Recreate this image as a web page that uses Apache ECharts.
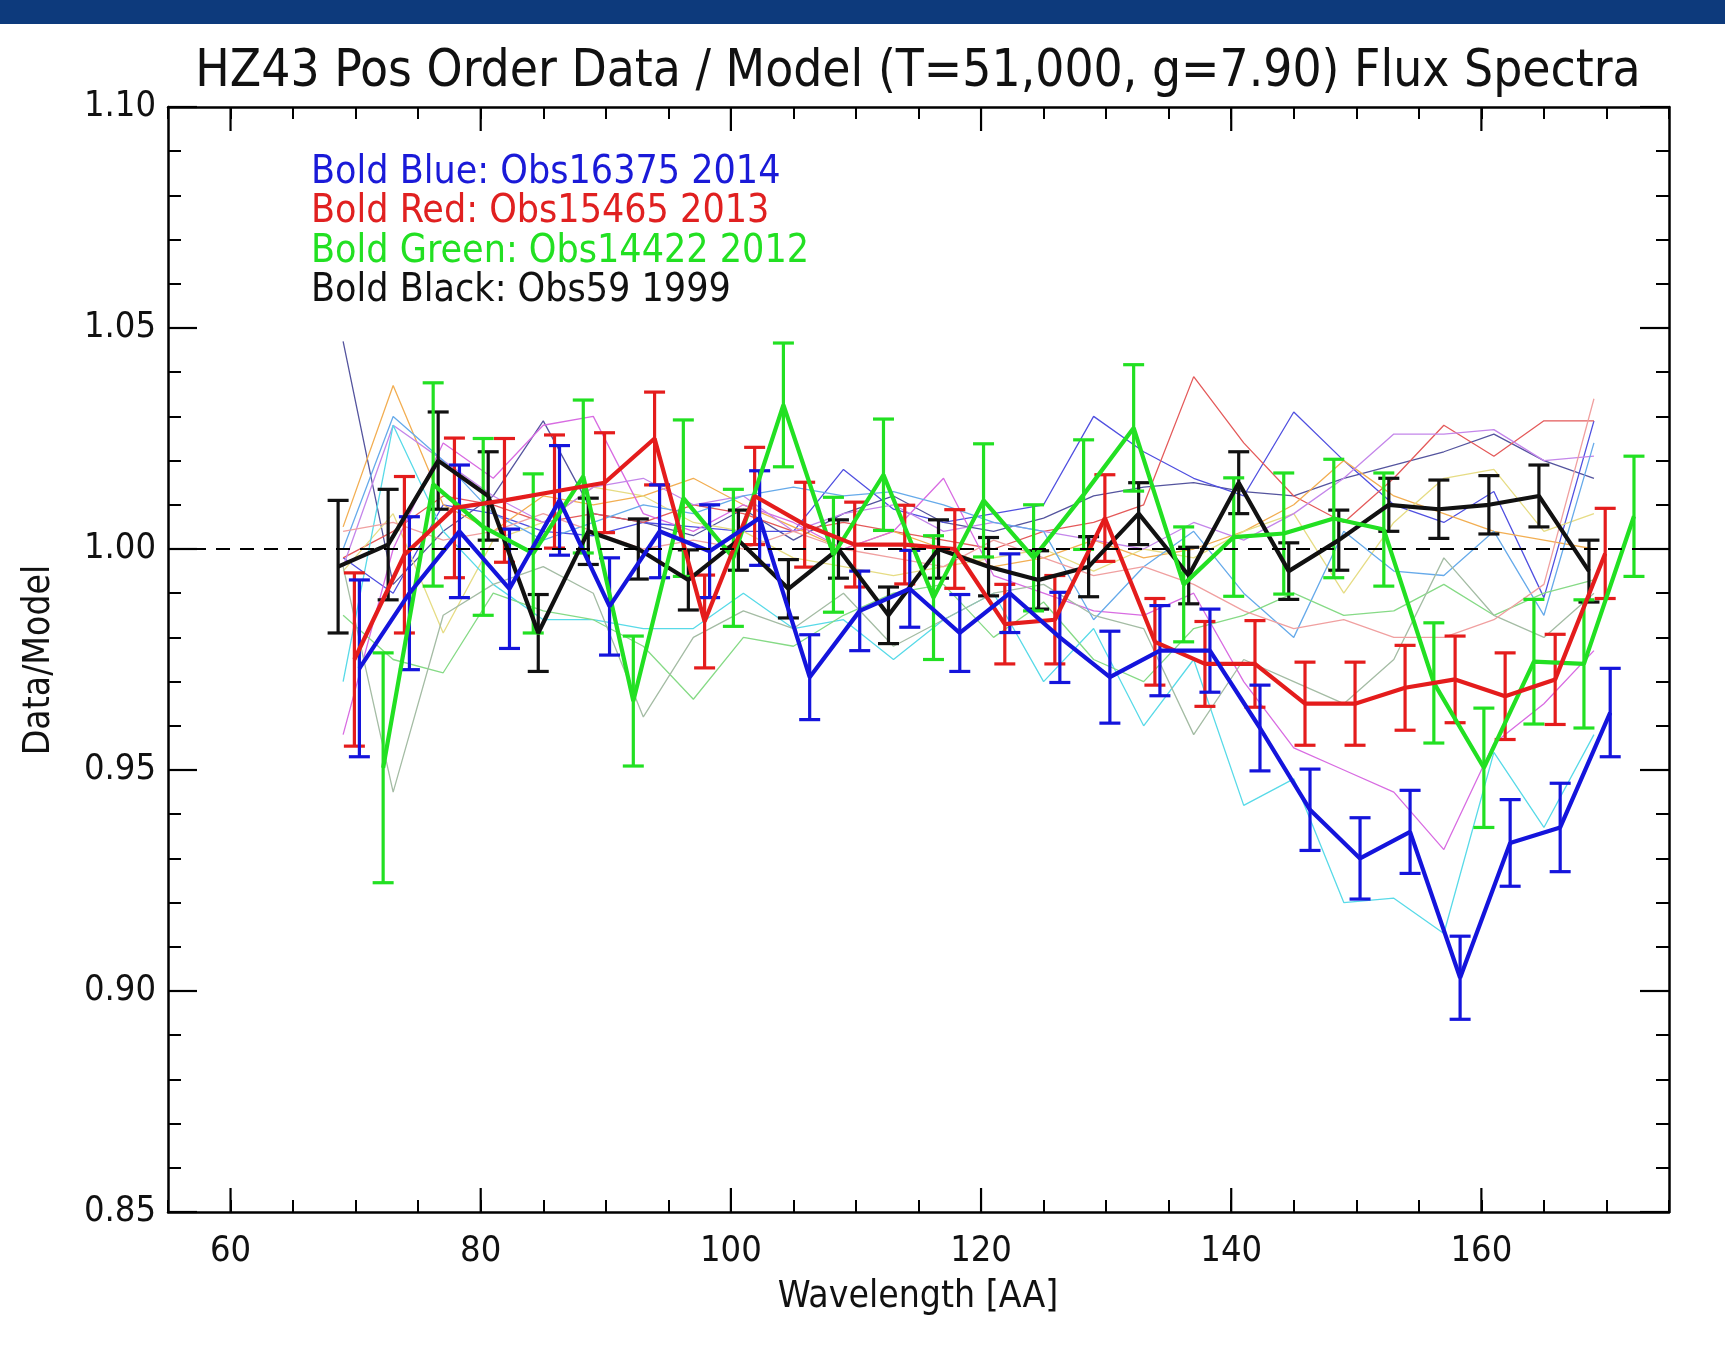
<!DOCTYPE html>
<html>
<head>
<meta charset="utf-8">
<title>HZ43 Pos Order Data / Model Flux Spectra</title>
<script src="https://cdn.jsdelivr.net/npm/echarts@6/dist/echarts.min.js"></script>
<style>
  html, body { margin: 0; padding: 0; background: #ffffff; }
  #chart { width: 1725px; height: 1345px; }
</style>
</head>
<body>
<div id="chart"></div>
<script>
// Bold observations with error bars (wavelength in AA, ratio data/model, 1-sigma half width)
const WL_BLACK = [68.6, 72.6, 76.6, 80.6, 84.6, 88.6, 92.6, 96.6, 100.6, 104.6, 108.6, 112.6, 116.6, 120.6, 124.6, 128.6, 132.6, 136.6, 140.6, 144.6, 148.6, 152.6, 156.6, 160.6, 164.6, 168.6];
const BLACK_RATIO = [0.996, 1.001, 1.020, 1.012, 0.981, 1.004, 1.000, 0.993, 1.002, 0.991, 1.000, 0.985, 1.000, 0.996, 0.993, 0.996, 1.008, 0.994, 1.015, 0.995, 1.002, 1.010, 1.009, 1.010, 1.012, 0.995];
const BLACK_ERR = [0.015, 0.0125, 0.011, 0.010, 0.0087, 0.0075, 0.0068, 0.0068, 0.0068, 0.0066, 0.0066, 0.0064, 0.0066, 0.0066, 0.0066, 0.0068, 0.007, 0.0064, 0.007, 0.0064, 0.0068, 0.006, 0.0066, 0.0066, 0.007, 0.007];

const WL_BLUE = [70.3, 74.3, 78.3, 82.3, 86.3, 90.3, 94.3, 98.3, 102.3, 106.3, 110.3, 114.3, 118.3, 122.3, 126.3, 130.3, 134.3, 138.3, 142.3, 146.3, 150.3, 154.3, 158.3, 162.3, 166.3, 170.3];
const BLUE_RATIO = [0.973, 0.990, 1.004, 0.991, 1.011, 0.987, 1.004, 0.9995, 1.007, 0.971, 0.986, 0.991, 0.981, 0.990, 0.980, 0.971, 0.977, 0.977, 0.9595, 0.941, 0.930, 0.936, 0.903, 0.9335, 0.937, 0.963];
const BLUE_ERR = [0.020, 0.0173, 0.015, 0.0135, 0.0124, 0.011, 0.0105, 0.0105, 0.0107, 0.0096, 0.009, 0.0087, 0.0087, 0.0089, 0.0102, 0.0104, 0.0102, 0.0094, 0.0097, 0.0092, 0.0092, 0.0094, 0.0094, 0.0098, 0.010, 0.010];

const WL_RED = [69.9, 73.9, 77.9, 81.9, 85.9, 89.9, 93.9, 97.9, 101.9, 105.9, 109.9, 113.9, 117.9, 121.9, 125.9, 129.9, 133.9, 137.9, 141.9, 145.9, 149.9, 153.9, 157.9, 161.9, 165.9, 169.9];
const RED_RATIO = [0.975, 0.9987, 1.0093, 1.011, 1.013, 1.015, 1.025, 0.9836, 1.012, 1.0055, 1.001, 1.001, 1.000, 0.983, 0.984, 1.007, 0.979, 0.974, 0.974, 0.965, 0.965, 0.9686, 0.9705, 0.9667, 0.9705, 0.999];
const RED_ERR = [0.0196, 0.0177, 0.0158, 0.014, 0.0128, 0.0113, 0.0105, 0.0105, 0.011, 0.0096, 0.0096, 0.0089, 0.0089, 0.009, 0.010, 0.0098, 0.0098, 0.0096, 0.0098, 0.0094, 0.0094, 0.0096, 0.0098, 0.0098, 0.0102, 0.0102];

const WL_GREEN = [72.2, 76.2, 80.2, 84.2, 88.2, 92.2, 96.2, 100.2, 104.2, 108.2, 112.2, 116.2, 120.2, 124.2, 128.2, 132.2, 136.2, 140.2, 144.2, 148.2, 152.2, 156.2, 160.2, 164.2, 168.2, 172.2];
const GREEN_RATIO = [0.9505, 1.0146, 1.005, 0.999, 1.0164, 0.9656, 1.0115, 0.998, 1.0326, 0.9987, 1.0168, 0.989, 1.011, 0.998, 1.0123, 1.0274, 0.992, 1.0027, 1.0035, 1.0069, 1.0044, 0.9697, 0.9505, 0.9745, 0.974, 1.0074];
const GREEN_ERR = [0.026, 0.023, 0.020, 0.018, 0.0173, 0.0147, 0.0177, 0.0155, 0.014, 0.013, 0.0126, 0.014, 0.0128, 0.012, 0.0124, 0.0143, 0.013, 0.0134, 0.0137, 0.0134, 0.0128, 0.0136, 0.0135, 0.0141, 0.0145, 0.0136];

// Remaining observations, drawn as thin lines without error bars
const WL_THIN = [69, 73, 77, 81, 85, 89, 93, 97, 101, 105, 109, 113, 117, 121, 125, 129, 133, 137, 141, 145, 149, 153, 157, 161, 165, 169];
const THIN_NAVY = [1.047, 0.992, 1.004, 1.012, 1.029, 1.008, 1.006, 1.003, 1.009, 1.002, 1.008, 1.012, 1.006, 1.004, 1.007, 1.012, 1.014, 1.015, 1.013, 1.012, 1.016, 1.019, 1.022, 1.026, 1.020, 1.016];
const THIN_BLUE = [0.998, 0.990, 1.010, 1.008, 1.004, 1.003, 1.006, 1.005, 1.004, 1.004, 1.018, 1.009, 1.006, 1.008, 1.010, 1.030, 1.022, 1.016, 1.012, 1.031, 1.020, 1.010, 1.006, 1.013, 0.989, 1.029];
const THIN_RED = [0.998, 1.004, 1.012, 1.010, 1.006, 1.008, 1.006, 1.010, 1.008, 1.004, 1.006, 1.004, 1.002, 1.000, 1.004, 1.006, 1.010, 1.039, 1.024, 1.012, 1.006, 1.016, 1.028, 1.021, 1.029, 1.029];
const THIN_ORANGE = [1.005, 1.037, 1.010, 1.004, 1.012, 1.010, 1.012, 1.016, 1.010, 1.005, 1.000, 1.004, 1.000, 0.996, 0.998, 1.002, 0.998, 1.000, 1.004, 1.010, 1.020, 1.012, 1.008, 1.004, 1.002, 1.000];
const THIN_YELLOW = [0.995, 1.008, 0.981, 1.002, 1.006, 1.014, 1.012, 1.006, 1.004, 0.998, 0.996, 0.994, 0.996, 0.998, 1.000, 0.995, 1.000, 0.998, 1.004, 1.008, 0.990, 1.006, 1.016, 1.018, 1.004, 1.008];
const THIN_MAGENTA = [0.958, 1.000, 1.024, 1.016, 1.028, 1.030, 1.008, 1.004, 1.010, 1.006, 1.000, 1.004, 1.016, 0.994, 0.990, 0.986, 0.985, 0.990, 0.970, 0.955, 0.950, 0.945, 0.932, 0.956, 0.965, 0.977];
const THIN_VIOLET = [0.996, 1.028, 1.020, 1.012, 1.006, 1.014, 1.016, 1.010, 1.012, 1.004, 1.008, 1.010, 1.004, 1.006, 1.004, 1.002, 1.000, 1.006, 1.002, 1.008, 1.016, 1.026, 1.026, 1.027, 1.020, 1.021];
const THIN_CYAN = [0.970, 1.028, 1.004, 0.992, 0.984, 0.984, 0.982, 0.982, 0.990, 0.982, 0.984, 0.975, 0.984, 0.990, 0.970, 0.982, 0.960, 0.975, 0.942, 0.948, 0.920, 0.921, 0.913, 0.954, 0.937, 0.958];
const THIN_STEEL = [1.000, 1.030, 1.020, 1.008, 1.002, 1.006, 1.010, 1.008, 1.012, 1.014, 1.012, 1.013, 1.010, 1.006, 1.004, 0.984, 0.996, 1.004, 0.990, 0.980, 1.004, 0.995, 0.994, 1.004, 0.985, 1.024];
const THIN_LTGREEN = [0.985, 0.975, 0.972, 0.990, 0.986, 0.984, 0.978, 0.966, 0.980, 0.978, 0.985, 0.990, 0.992, 0.980, 0.988, 0.975, 0.970, 0.982, 0.985, 0.990, 0.985, 0.986, 0.992, 0.985, 0.990, 0.993];
const THIN_GRAY = [0.996, 0.945, 0.985, 0.992, 0.996, 0.990, 0.962, 0.980, 0.986, 0.982, 0.990, 0.978, 0.984, 0.990, 0.992, 0.985, 0.982, 0.958, 0.975, 0.970, 0.965, 0.975, 0.998, 0.985, 0.980, 0.990];
const THIN_SALMON = [1.004, 1.006, 1.002, 1.004, 1.008, 1.004, 1.000, 1.002, 1.000, 1.004, 1.000, 0.998, 0.996, 1.002, 0.998, 0.994, 0.996, 0.992, 0.986, 0.982, 0.984, 0.980, 0.980, 0.984, 0.992, 1.034];

// Labelled wavelength ticks
const X_MAJOR = [60, 80, 100, 120, 140, 160];

const LEGEND_LINES = [
  { text: 'Bold Blue: Obs16375 2014', color: '#1a1ad8' },
  { text: 'Bold Red: Obs15465 2013', color: '#e02020' },
  { text: 'Bold Green: Obs14422 2012', color: '#22e022' },
  { text: 'Bold Black: Obs59 1999', color: '#111111' }
];

const FONT = "'DejaVu Sans Condensed', 'DejaVu Sans', sans-serif";

function pairs(xs, ys) { return xs.map((x, i) => [x, ys[i]]); }
function bars(xs, ys, es) { return xs.map((x, i) => [x, ys[i] - es[i], ys[i] + es[i]]); }

const thinSpecs = [
  [THIN_NAVY, '#54549e'], [THIN_BLUE, '#5050e0'], [THIN_RED, '#e45a5a'],
  [THIN_ORANGE, '#f2ae52'], [THIN_YELLOW, '#e6dc84'], [THIN_MAGENTA, '#d86ce2'],
  [THIN_VIOLET, '#c486ea'], [THIN_CYAN, '#58dae8'], [THIN_STEEL, '#66aaea'],
  [THIN_LTGREEN, '#86da86'], [THIN_GRAY, '#a4bca4'], [THIN_SALMON, '#f0a0a0']
];

const series = [];
thinSpecs.forEach(([vals, color]) => {
  series.push({
    type: 'line', data: pairs(WL_THIN, vals), symbol: 'none', silent: true,
    lineStyle: { color: color, width: 1.3 }, z: 2
  });
});

function errorBars(xs, ys, es, color) {
  return {
    type: 'custom', silent: true, z: 4,
    data: bars(xs, ys, es),
    encode: { x: 0, y: [1, 2] },
    renderItem: function (params, api) {
      const x = api.value(0);
      const lo = api.coord([x, api.value(1)]);
      const hi = api.coord([x, api.value(2)]);
      const hw = 10.5;
      const style = { stroke: color, lineWidth: 3.2 };
      return {
        type: 'group',
        children: [
          { type: 'line', shape: { x1: lo[0], y1: lo[1], x2: hi[0], y2: hi[1] }, style: style },
          { type: 'line', shape: { x1: lo[0] - hw, y1: lo[1], x2: lo[0] + hw, y2: lo[1] }, style: style },
          { type: 'line', shape: { x1: hi[0] - hw, y1: hi[1], x2: hi[0] + hw, y2: hi[1] }, style: style }
        ]
      };
    }
  };
}

function boldLine(xs, ys, color) {
  return {
    type: 'line', data: pairs(xs, ys), symbol: 'none', silent: true, z: 4,
    lineStyle: { color: color, width: 4.2 }
  };
}

const boldSpecs = [
  [WL_BLACK, BLACK_RATIO, BLACK_ERR, '#111111'],
  [WL_GREEN, GREEN_RATIO, GREEN_ERR, '#22e022'],
  [WL_RED, RED_RATIO, RED_ERR, '#e41c1c'],
  [WL_BLUE, BLUE_RATIO, BLUE_ERR, '#1414dc']
];
boldSpecs.forEach(([xs, ys, es, color]) => {
  series.push(boldLine(xs, ys, color));
  series.push(errorBars(xs, ys, es, color));
});

// dashed reference at unity
series.push({
  type: 'line', data: [], silent: true, z: 3,
  markLine: {
    silent: true, symbol: ['none', 'none'], label: { show: false },
    lineStyle: { color: '#000', type: [14, 10], width: 2 },
    data: [{ yAxis: 1.0 }]
  }
});

// long ticks at the labelled wavelengths, on both the bottom and top frame
series.push({
  type: 'custom', silent: true, z: 6, clip: false,
  data: X_MAJOR.map(v => [v]),
  encode: { x: 0 },
  renderItem: function (params, api) {
    const b = api.coord([api.value(0), 0.85]);
    const t = api.coord([api.value(0), 1.10]);
    const style = { stroke: '#000', lineWidth: 2.2 };
    return {
      type: 'group',
      children: [
        { type: 'line', shape: { x1: b[0], y1: b[1], x2: b[0], y2: b[1] - 24 }, style: style },
        { type: 'line', shape: { x1: t[0], y1: t[1], x2: t[0], y2: t[1] + 24 }, style: style }
      ]
    };
  }
});

const axisLine = { show: true, onZero: false, lineStyle: { color: '#000', width: 2.5 } };
const labelStyle = { color: '#111', fontFamily: FONT, fontSize: 36 };

// 5 AA ticks; the labelled ones get a long tick from the custom series above
const xCommon = {
  type: 'value', min: 55, max: 175, interval: 5,
  axisLine: axisLine,
  axisTick: { show: true, inside: true, length: 12, lineStyle: { color: '#000', width: 2 } },
  splitLine: { show: false }
};

// major ticks every 0.05 with 0.01 minor ticks
const yCommon = {
  type: 'value', min: 0.85, max: 1.10, interval: 0.05,
  axisLine: axisLine,
  axisTick: { show: true, inside: true, length: 29, lineStyle: { color: '#000', width: 2.2 } },
  minorTick: { show: true, splitNumber: 5, length: 13, lineStyle: { color: '#000', width: 2 } },
  splitLine: { show: false }, minorSplitLine: { show: false }
};

const chart = echarts.init(document.getElementById('chart'), null, { renderer: 'canvas' });

chart.setOption({
  animation: false,
  backgroundColor: '#ffffff',
  grid: { left: 168, right: 56, top: 107, bottom: 133, containLabel: false },
  xAxis: [
    Object.assign({}, xCommon, {
      position: 'bottom',
      axisLabel: Object.assign({}, labelStyle, {
        margin: 22, hideOverlap: false,
        formatter: v => (X_MAJOR.indexOf(Math.round(v)) >= 0 && Math.abs(v - Math.round(v)) < 1e-6) ? String(Math.round(v)) : ''
      })
    }),
    Object.assign({}, xCommon, { position: 'top', axisLabel: { show: false } })
  ],
  yAxis: [
    Object.assign({}, yCommon, {
      position: 'left',
      axisLabel: Object.assign({}, labelStyle, { margin: 12, formatter: v => v.toFixed(2) })
    }),
    Object.assign({}, yCommon, { position: 'right', axisLabel: { show: false } })
  ],
  series: series,
  graphic: [
    { type: 'rect', left: 0, top: 0, shape: { width: 1725, height: 24 }, style: { fill: '#0d3a7c' }, silent: true },
    {
      type: 'text', x: 918, y: 73,
      style: { text: 'HZ43 Pos Order Data / Model (T=51,000, g=7.90) Flux Spectra', fill: '#111', font: '51px ' + FONT, textAlign: 'center', textVerticalAlign: 'middle' }
    },
    {
      type: 'text', x: 918, y: 1297,
      style: { text: 'Wavelength [AA]', fill: '#111', font: '37px ' + FONT, textAlign: 'center', textVerticalAlign: 'middle' }
    },
    {
      type: 'text', x: 39, y: 660, rotation: Math.PI / 2,
      style: { text: 'Data/Model', fill: '#111', font: '37px ' + FONT, textAlign: 'center', textVerticalAlign: 'middle' }
    }
  ].concat(LEGEND_LINES.map((l, i) => ({
    type: 'text', x: 311, y: 173 + i * 39.3,
    style: { text: l.text, fill: l.color, font: '39px ' + FONT, textAlign: 'left', textVerticalAlign: 'middle' }
  })))
});
</script>
</body>
</html>
